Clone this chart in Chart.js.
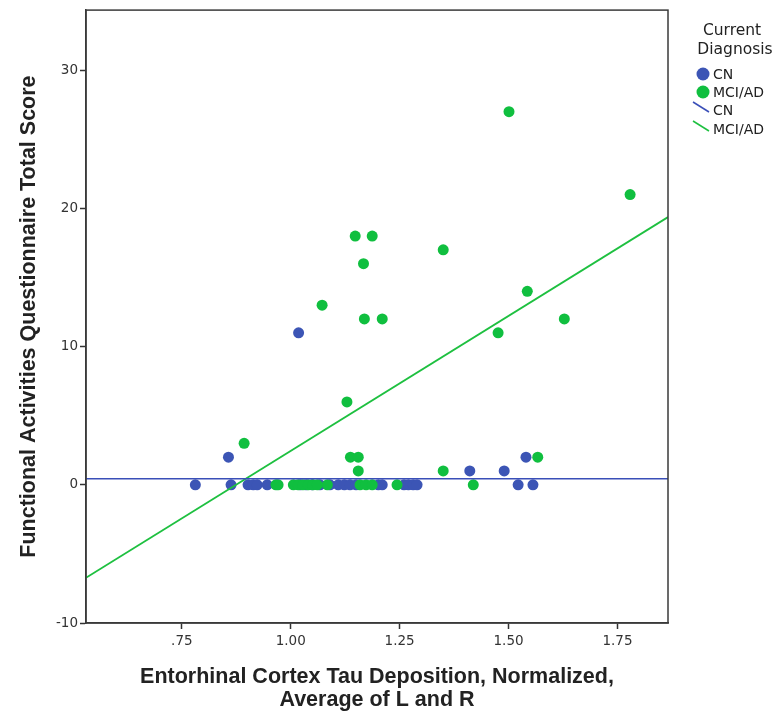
<!DOCTYPE html>
<html><head><meta charset="utf-8">
<script src="https://cdn.jsdelivr.net/npm/chart.js@4"></script>
<style>html,body{margin:0;padding:0;background:#fff}#wrap{position:relative;width:773px;height:712px}</style>
</head><body><div id="wrap"><canvas id="c" width="773" height="712"></canvas></div>
<script>
const seriesNames = ['CN', 'MCI/AD'];
const legendTitle = ['Current', 'Diagnosis'];
const xTitle = ['Entorhinal Cortex Tau Deposition, Normalized,', 'Average of L and R'];
const yTitle = 'Functional Activities Questionnaire Total Score';
const xTickValues = [0.75, 1.00, 1.25, 1.50, 1.75];
const xTickLabels = ['.75', '1.00', '1.25', '1.50', '1.75'];
const yTickValues = [-10, 0, 10, 20, 30];
const yTickLabels = ['-10', '0', '10', '20', '30'];
const xRange = [0.53, 1.866];
const yRange = [-10, 34.35];

const cnX = [0.781,0.863,0.902,0.914,0.923,0.946,1.022,1.035,1.049,1.067,1.090,1.109,1.123,1.136,1.150,1.201,1.210,1.260,1.270,1.281,1.290,1.522,1.556,1.018,0.857,1.540,1.411,1.490];
const cnY = [0,0,0,0,0,0,0,0,0,0,0,0,0,0,0,0,0,0,0,0,0,0,0,11,2,2,1,1];
const mciX = [1.501,1.779,1.148,1.187,1.167,1.350,1.072,1.169,1.210,1.628,1.543,1.476,1.129,0.893,1.137,1.155,1.567,1.155,1.350,1.419,0.966,0.971,1.006,1.017,1.028,1.040,1.051,1.061,1.084,1.159,1.173,1.187,1.244];
const mciY = [27,21,18,18,16,17,13,12,12,12,14,11,6,3,2,2,2,1,1,0,0,0,0,0,0,0,0,0,0,0,0,0,0];

// fit lines: values read at the left and right edges of the plot
const fitX = [0.53, 1.866];
const cnFitY = [0.43, 0.43];
const mciFitY = [-6.73, 19.37];

const blue = '#3c55b5';
const green = '#10bf3f';
const blueLine = '#3a4fb8';
const greenLine = '#1ec040';

const pts = (xs, ys) => xs.map((x, i) => ({x: x, y: ys[i]}));

const framePlugin = {
  id: 'frame',
  afterDatasetsDraw(chart) {
    const {ctx, chartArea: a} = chart;
    ctx.save();
    ctx.strokeStyle = '#3a3a3a';
    ctx.lineWidth = 1.5;
    ctx.strokeRect(a.left, a.top, a.right - a.left, a.bottom - a.top);
    ctx.restore();
  }
};

const legendPlugin = {
  id: 'sideLegend',
  afterDraw(chart) {
    const ctx = chart.ctx;
    ctx.save();
    ctx.fillStyle = '#222';
    ctx.font = '15.5px "DejaVu Sans"';
    ctx.textAlign = 'center';
    ctx.textBaseline = 'middle';
    ctx.fillText(legendTitle[0], 732, 31);
    ctx.fillText(legendTitle[1], 735, 50);
    ctx.font = '14px "DejaVu Sans"';
    ctx.textAlign = 'left';
    const items = [
      {type: 'dot', color: blue, label: seriesNames[0], y: 74},
      {type: 'dot', color: green, label: seriesNames[1], y: 92},
      {type: 'line', color: blueLine, label: seriesNames[0], y: 110},
      {type: 'line', color: greenLine, label: seriesNames[1], y: 129}
    ];
    items.forEach(it => {
      if (it.type === 'dot') {
        ctx.fillStyle = it.color;
        ctx.beginPath();
        ctx.arc(703, it.y, 6.5, 0, Math.PI * 2);
        ctx.fill();
      } else {
        ctx.strokeStyle = it.color;
        ctx.lineWidth = 1.5;
        ctx.beginPath();
        ctx.moveTo(693, it.y - 8);
        ctx.lineTo(709, it.y + 2);
        ctx.stroke();
      }
      ctx.fillStyle = '#222';
      ctx.fillText(it.label, 713, it.y + 1);
    });
    ctx.restore();
  }
};

new Chart(document.getElementById('c'), {
  type: 'scatter',
  data: {
    datasets: [
      {label: seriesNames[0] + ' fit', type: 'line', data: pts(fitX, cnFitY), borderColor: blueLine, borderWidth: 1.5, pointRadius: 0, fill: false, order: 0},
      {label: seriesNames[1] + ' fit', type: 'line', data: pts(fitX, mciFitY), borderColor: greenLine, borderWidth: 1.8, pointRadius: 0, fill: false, order: 0},
      {label: seriesNames[1], data: pts(mciX, mciY), backgroundColor: green, borderWidth: 0, pointRadius: 5.5, pointHoverRadius: 5.5, order: 1},
      {label: seriesNames[0], data: pts(cnX, cnY), backgroundColor: blue, borderWidth: 0, pointRadius: 5.5, pointHoverRadius: 5.5, order: 2}
    ]
  },
  options: {
    responsive: false,
    animation: false,
    devicePixelRatio: 1,
    layout: {padding: {top: 10, right: 105, bottom: 0, left: 0}},
    plugins: {legend: {display: false}, tooltip: {enabled: false}},
    scales: {
      x: {
        type: 'linear', min: xRange[0], max: xRange[1],
        afterBuildTicks: s => { s.ticks = xTickValues.map(v => ({value: v})); },
        afterFit: s => { s.height = 89; },
        ticks: {
          callback: v => { const i = xTickValues.findIndex(t => Math.abs(t - v) < 1e-6); return i >= 0 ? xTickLabels[i] : ''; },
          font: {family: 'DejaVu Sans', size: 13.5}, color: '#333', padding: 4, maxRotation: 0
        },
        grid: {drawOnChartArea: false, drawTicks: true, tickLength: 6, tickColor: '#333', tickWidth: 1.5},
        border: {display: true, color: '#3a3a3a', width: 1.5},
        title: {display: true, text: xTitle, font: {family: 'Liberation Sans', size: 21.5, weight: 'bold', lineHeight: 1.08}, color: '#222', padding: {top: 0, bottom: 0}}
      },
      y: {
        type: 'linear', min: yRange[0], max: yRange[1],
        afterBuildTicks: s => { s.ticks = yTickValues.map(v => ({value: v})); },
        afterFit: s => { s.width = 86; },
        ticks: {
          callback: v => { const i = yTickValues.findIndex(t => Math.abs(t - v) < 1e-6); return i >= 0 ? yTickLabels[i] : ''; },
          font: {family: 'DejaVu Sans', size: 13.5}, color: '#333', padding: 2
        },
        grid: {drawOnChartArea: false, drawTicks: true, tickLength: 6, tickColor: '#333', tickWidth: 1.5},
        border: {display: true, color: '#3a3a3a', width: 1.5},
        title: {display: true, text: yTitle, font: {family: 'Liberation Sans', size: 21.5, weight: 'bold', lineHeight: 1.2}, color: '#222', padding: {top: 16, bottom: 0}}
      }
    }
  },
  plugins: [framePlugin, legendPlugin]
});
</script>
</body></html>
